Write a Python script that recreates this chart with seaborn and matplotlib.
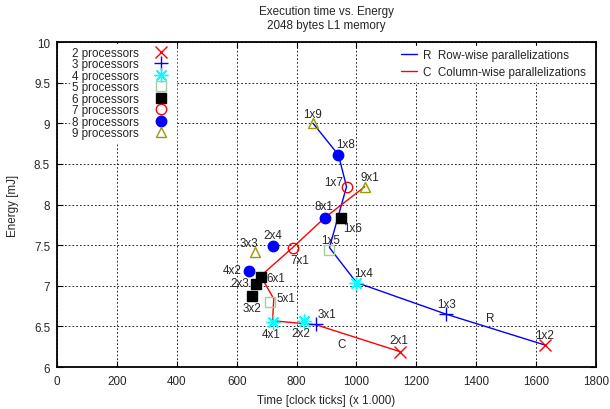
import numpy as np
import pandas as pd
import matplotlib
matplotlib.use('Agg')
import matplotlib.pyplot as plt
import seaborn as sns

# measured points: label, number of processors, time (x 1.000 ticks), energy (mJ)
point_labels = ['1x2', '2x1',
                '1x3', '3x1',
                '1x4', '2x2', '4x1',
                '1x5', '5x1',
                '1x6', '6x1', '2x3', '3x2',
                '1x7', '7x1',
                '1x8', '8x1', '2x4', '4x2',
                '1x9', '9x1', '3x3']
point_procs = [2, 2,
               3, 3,
               4, 4, 4,
               5, 5,
               6, 6, 6, 6,
               7, 7,
               8, 8, 8, 8,
               9, 9, 9]
point_time = [1630, 1145,
              1300, 865,
              1000, 825, 720,
              910, 713,
              947, 680, 665, 650,
              967, 787,
              940, 895, 720, 641,
              855, 1028, 661]
point_energy = [6.27, 6.19,
                6.65, 6.53,
                7.04, 6.57, 6.56,
                7.44, 6.80,
                7.83, 7.11, 7.02, 6.88,
                8.22, 7.47,
                8.61, 7.84, 7.49, 7.18,
                9.00, 8.22, 7.41]

# polylines of the two parallelization schemes
row_time = [1630, 1300, 1000, 910, 967, 940, 855]
row_energy = [6.27, 6.65, 7.04, 7.47, 8.22, 8.61, 9.00]
col_time = [1145, 865, 720, 724, 680, 787, 895, 1028]
col_energy = [6.19, 6.52, 6.57, 6.84, 7.12, 7.47, 7.84, 8.22]

df = pd.DataFrame({'label': point_labels, 'procs': point_procs,
                   'time': point_time, 'energy': point_energy})
row_df = pd.DataFrame({'time': row_time, 'energy': row_energy})
col_df = pd.DataFrame({'time': col_time, 'energy': col_energy})

# marker, size, face, edge, edge width
estilos = {
    2: ('x', 8, 'none', '#ff0000', 1.0),
    3: ('+', 10, 'none', '#0000ff', 1.0),
    4: ((8, 2, 0), 10, 'none', '#00ffff', 1.0),
    5: ('s', 7, 'none', '#a0d0a0', 1.0),
    6: ('s', 7.5, 'black', 'black', 1.0),
    7: ('o', 7.5, 'none', '#ff0000', 1.0),
    8: ('o', 7.5, '#0000ff', '#0000ff', 1.0),
    9: ('^', 7, 'none', '#999900', 1.0),
}

# text offsets of the point labels (points)
offsets = {
    '1x2': (0, 7), '2x1': (-1, 8), '1x3': (0, 7), '3x1': (8, 7),
    '1x4': (5, 7), '2x2': (-2, -9), '4x1': (-1, -9), '1x5': (1, 7),
    '5x1': (11, 3), '1x6': (9, -7), '6x1': (11, -1), '2x3': (-12, 1),
    '3x2': (0, -9), '1x7': (-9, 3), '7x1': (5, -9), '1x8': (5, 8),
    '8x1': (-1, 8), '2x4': (0, 8), '4x2': (-12, 1), '1x9': (0, 7),
    '9x1': (4, 7), '3x3': (-4, 7),
}

FS = 8.4

sns.set_style('ticks')
plt.rcParams['font.family'] = ['Liberation Sans', 'DejaVu Sans']

fig = plt.figure(figsize=(6.1, 4.1), dpi=100)
ax = fig.add_axes([0.0934, 0.1024, 0.8836, 0.7927])

sns.lineplot(data=row_df, x='time', y='energy', sort=False, estimator=None,
             color='#0000ff', lw=1, ax=ax)
linea_r = ax.lines[-1]
sns.lineplot(data=col_df, x='time', y='energy', sort=False, estimator=None,
             color='#ff0000', lw=1, ax=ax)
linea_c = ax.lines[-1]

handles_proc = []
for p, (m, ms, fc, ec, mew) in estilos.items():
    sub = df[df['procs'] == p]
    sns.lineplot(data=sub, x='time', y='energy', sort=False, estimator=None,
                 linestyle='none', marker=m, markersize=ms, markerfacecolor=fc,
                 markeredgecolor=ec, markeredgewidth=mew, color=ec, ax=ax)
    handles_proc.append(ax.lines[-1])

for _, fila in df.iterrows():
    ax.annotate(fila['label'], (fila['time'], fila['energy']),
                xytext=offsets[fila['label']], textcoords='offset points',
                ha='center', va='center', fontsize=FS)

ax.text(1448, 6.60, 'R', ha='center', va='center', fontsize=FS)
ax.text(951, 6.28, 'C', ha='center', va='center', fontsize=FS)

ax.set_xlim(0, 1800)
ax.set_ylim(6, 10)
ax.set_xticks(np.arange(0, 1801, 200))
yt = np.arange(6, 10.01, 0.5)
ax.set_yticks(yt)
ax.set_yticklabels([f'{v:g}' for v in yt])
ax.tick_params(direction='in', top=True, right=True, length=4, width=0.8,
               labelsize=FS, pad=5, color='black')
ax.tick_params(axis='x', pad=6)
for s in ax.spines.values():
    s.set_linewidth(1.3)
    s.set_color('black')
ax.grid(True, color='black', linestyle=(0, (2, 2.5)), linewidth=0.6)
ax.set_axisbelow(True)

ax.set_xlabel('Time [clock ticks] (x 1.000)', fontsize=FS, labelpad=5)
ax.set_ylabel('Energy [mJ]', fontsize=FS, labelpad=11)
ax.set_title('Execution time vs. Energy\n2048 bytes L1 memory', fontsize=FS,
             pad=10, linespacing=1.2)

leg1 = ax.legend(handles_proc, [f'{p} processors' for p in estilos],
                 loc='upper left', bbox_to_anchor=(0.024, 0.993),
                 borderaxespad=0, markerfirst=False, fontsize=FS,
                 labelspacing=-0.04, handlelength=2.2, handletextpad=0.8,
                 frameon=True, fancybox=False, edgecolor='white',
                 facecolor='white', framealpha=1, borderpad=0.2)
ax.add_artist(leg1)
ax.legend([linea_r, linea_c],
          ['R  Row-wise parallelizations', 'C  Column-wise parallelizations'],
          loc='upper right', bbox_to_anchor=(1, 1.008), borderaxespad=0.55,
          fontsize=FS, labelspacing=0.4, handlelength=1.37, handletextpad=0.5,
          frameon=True, fancybox=False, edgecolor='white', facecolor='white',
          framealpha=1, borderpad=0.3)

fig.savefig('out.png', dpi=100)
